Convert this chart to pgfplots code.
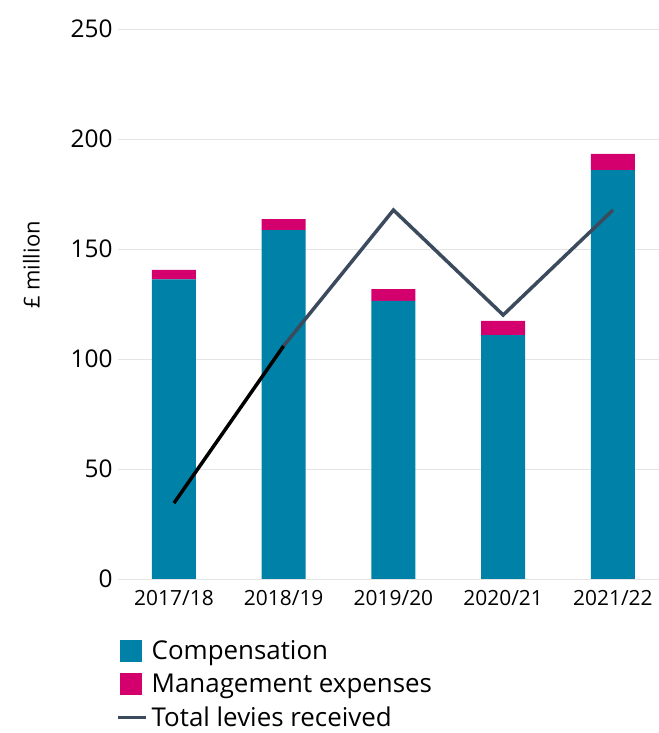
\documentclass[border=0pt]{standalone}
\usepackage{pgfplots}
\pgfplotsset{compat=1.18}
\usepackage{fontspec}
\setmainfont{Open Sans}
\definecolor{comp}{RGB}{0,130,168}
\definecolor{mgmt}{RGB}{212,0,110}
\definecolor{lev}{RGB}{60,74,94}
\definecolor{gridc}{RGB}{228,228,228}
\begin{document}
\begin{tikzpicture}
\pgfplotsset{base/.style={scale only axis, width=541bp, height=550bp,
  xmin=-0.51, xmax=4.42, ymin=0, ymax=250,
  axis line style={draw=none}, tick style={draw=none},
  /pgf/number format/assume math mode=true}}
\begin{axis}[base, name=ax, ybar stacked, bar width=44bp,
  ytick={0,50,...,250}, ymajorgrids, grid style={gridc, line width=0.8pt},
  xtick={0,1,2,3,4},
  xticklabels={2017/18,2018/19,2019/20,2020/21,2021/22},
  tick label style={font=\fontsize{24.5}{28}\selectfont},
  xticklabel style={font=\fontsize{21}{25}\selectfont, yshift=-8bp},
  yticklabel style={xshift=-2bp},
  ylabel={£ million}, ylabel style={font=\fontsize{22}{26}\selectfont, yshift=24bp, xshift=39bp}]
\addplot[fill=comp, draw=none] coordinates {(0,136.2) (1,158.6) (2,126.4) (3,110.9) (4,185.9)};
\addplot[fill=mgmt, draw=none] coordinates {(0,4.3) (1,5.0) (2,5.4) (3,6.4) (4,7.3)};
\end{axis}
\begin{axis}[base, axis lines=none,
  legend style={at={(0,0)}, anchor=north west, xshift=-2bp, yshift=-60bp, draw=none, fill=none,
    font=\fontsize{26}{30}\selectfont, row sep=11bp, inner sep=0pt,
    nodes={inner ysep=1pt, inner xsep=4bp}},
  legend cell align=left]
\addlegendimage{area legend, legend image code/.code={\fill[comp] (0bp,-10.5bp) rectangle (21bp,10.5bp);}}
\addlegendentry{Compensation}
\addlegendimage{area legend, legend image code/.code={\fill[mgmt] (0bp,-10.5bp) rectangle (21bp,10.5bp);}}
\addlegendentry{Management expenses}
\addlegendimage{legend image code/.code={\draw[lev, line width=3.5bp] (-2bp,0) -- (26bp,0);}}
\addlegendentry{Total levies received}
\addplot[black, line width=3.5bp, forget plot] coordinates {(0,34.5) (1,106)};
\addplot[lev, line width=3.5bp, forget plot] coordinates {(1,106) (2,167.7) (3,120) (4,167.7)};
\end{axis}
\pgfresetboundingbox
\path[use as bounding box] ([xshift=-118bp,yshift=-154bp]ax.south west) rectangle ([yshift=29bp]ax.north east);
\end{tikzpicture}
\end{document}
